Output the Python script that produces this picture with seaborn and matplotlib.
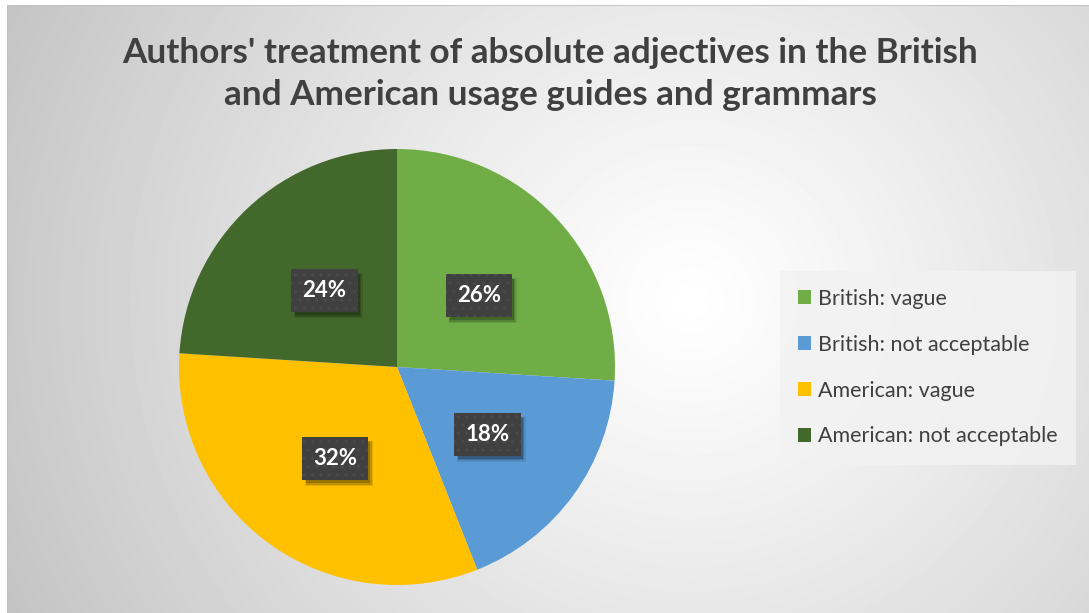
import numpy as np
import matplotlib
matplotlib.use("Agg")
import matplotlib.pyplot as plt
from matplotlib.patches import Patch, Rectangle
from matplotlib.transforms import IdentityTransform
import seaborn as sns

# Data
categories = ["British: vague", "British: not acceptable",
              "American: vague", "American: not acceptable"]
shares = [26, 18, 32, 24]
slice_colors = ["#70AD47", "#5B9BD5", "#FFC000", "#43682B"]
title_text = ("Authors' treatment of absolute adjectives in the British\n"
              "and American usage guides and grammars")

sns.set_style("white")
plt.rcParams["font.family"] = ["Lato", "DejaVu Sans"]
plt.rcParams["hatch.linewidth"] = 1.2

W, H = 1089, 613
fig = plt.figure(figsize=(W / 100, H / 100), dpi=100)
fig.patch.set_facecolor("white")

# Radial grey-to-white backdrop of the chart area
x0, y0 = 7, 5
bg_ax = fig.add_axes([x0 / W, 0, 1 - x0 / W, 1 - y0 / H])
bg_ax.set_axis_off()
gx, gy = np.meshgrid(np.arange(x0, W), np.arange(y0, H))
cx, cy = 690, 300
d = np.hypot(gx - cx, (gy - cy) * 1.05)
val = 1.0 - 0.235 * np.clip(d / 760, 0, 1) ** 1.1
bg_ax.imshow(val, cmap="gray", vmin=0, vmax=1, aspect="auto",
             extent=[0, 1, 0, 1], interpolation="bilinear")
bg_ax.set_xlim(0, 1)
bg_ax.set_ylim(0, 1)
bg_ax.plot([0, 1], [1, 1], color="#BFBFBF", lw=1.2, transform=bg_ax.transAxes)
bg_ax.plot([0, 0], [0, 1], color="#BFBFBF", lw=1.2, transform=bg_ax.transAxes)

# Pie
pcx, pcy, r = 397, 367, 218
ax = fig.add_axes([(pcx - r) / W, (H - pcy - r) / H, 2 * r / W, 2 * r / H])
ax.set_axis_off()
ax.set_zorder(2)
wedges, _ = ax.pie(shares, colors=slice_colors, startangle=90,
                   counterclock=False, radius=1.0,
                   wedgeprops=dict(linewidth=0))
ax.set_xlim(-1, 1)
ax.set_ylim(-1, 1)
ax.set_aspect("equal")

# Percentage labels in dark dotted boxes
labels = []
start = 90.0
total = float(sum(shares))
for v in shares:
    span = 360.0 * v / total
    mid = np.deg2rad(start - span / 2)
    start -= span
    lx, ly = 0.5 * np.cos(mid) + 0.01, 0.5 * np.sin(mid) - 0.015
    t = ax.text(lx, ly, f"{v}%", ha="center", va="center", fontsize=16,
                fontweight="bold", color="white", zorder=5,
                bbox=dict(boxstyle="square,pad=0.5", fc="#404040",
                          ec="#4A4A4A", lw=0, hatch=".."))
    labels.append(t)

# Soft drop shadows behind the label boxes (above the pie, below the boxes)
fig.canvas.draw()
renderer = fig.canvas.get_renderer()
for t in labels:
    bb = t.get_bbox_patch().get_window_extent(renderer)
    for dx, dy, grow, a in ((4, -5, 2, 0.10), (3.5, -4.5, 0, 0.16),
                            (3, -4, -2, 0.20)):
        shadow = Rectangle((bb.x0 + dx - grow / 2, bb.y0 + dy - grow / 2),
                           bb.width + grow, bb.height + grow,
                           facecolor="black", edgecolor="none",
                           alpha=a, zorder=4)
        ax.add_artist(shadow)
        shadow.set_transform(IdentityTransform())
        shadow.set_clip_on(False)

# Title
fig.text(550 / W, 1 - 74 / H, title_text, ha="center", va="center",
         fontsize=25.3, fontweight="bold", color="#404040",
         linespacing=1.4)

# Legend
handles = [Patch(facecolor=c, edgecolor="none") for c in slice_colors]
leg = fig.legend(handles, categories, loc="upper left",
                 bbox_to_anchor=(786 / W, 1 - 277 / H),
                 frameon=True, fontsize=15.5, labelcolor="#404040",
                 handlelength=0.6, handleheight=0.6, handletextpad=0.35,
                 labelspacing=1.2, borderpad=0.55, borderaxespad=0)
frame = leg.get_frame()
frame.set_facecolor("#F2F2F2")
frame.set_edgecolor("none")
frame.set_alpha(0.85)
frame.set_boxstyle("square")

fig.savefig("out.png", dpi=100)
